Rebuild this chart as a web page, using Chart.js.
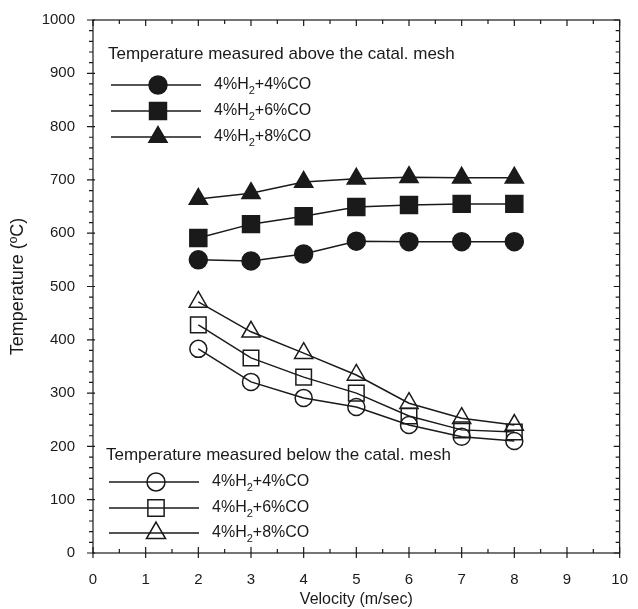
<!DOCTYPE html>
<html>
<head>
<meta charset="utf-8">
<script src="https://cdn.jsdelivr.net/npm/chart.js@4.4.0/dist/chart.umd.min.js"></script>
<style>
  html, body { margin: 0; padding: 0; background: #fff; }
  #wrap { width: 638px; height: 609px; }
</style>
</head>
<body>
<div id="wrap"><canvas id="grafico" width="638" height="609"></canvas></div>
<script>
// velocity (m/sec)
var velocity = [2, 3, 4, 5, 6, 7, 8];

// temperature above the catalytic mesh
var above4 = [550, 548, 561, 585, 584, 584, 584];
var above6 = [591, 617, 632, 649, 653, 655, 655];
var above8 = [664, 675, 696, 702, 705, 704, 704];

// temperature below the catalytic mesh
var below4 = [383, 321, 291, 274, 240, 218, 210];
var below6 = [428, 366, 330, 300, 257, 231, 227];
var below8 = [471, 415, 375, 334, 281, 253, 240];

var seriesNames = ['4%H2+4%CO', '4%H2+6%CO', '4%H2+8%CO'];
var xTicks = [0, 1, 2, 3, 4, 5, 6, 7, 8, 9, 10];
var yTicks = [0, 100, 200, 300, 400, 500, 600, 700, 800, 900, 1000];

var ink = '#1a1a1a';
var font = '"Liberation Sans", Arial, sans-serif';

function pts(ys) {
  return velocity.map(function (v, i) { return { x: v, y: ys[i] }; });
}

function serie(label, ys, style, filled, r) {
  return {
    label: label,
    data: pts(ys),
    showLine: true,
    borderColor: ink,
    borderWidth: 1.5,
    pointStyle: style,
    pointRadius: r,
    pointHoverRadius: r,
    pointBorderColor: ink,
    pointBorderWidth: 1.5,
    pointBackgroundColor: filled ? ink : 'rgba(0,0,0,0)',
    backgroundColor: filled ? ink : 'rgba(0,0,0,0)'
  };
}

var filledR = [9, 12, 10.5];
var openR = [8.5, 11, 10.5];

// ticks, frame and the two legend boxes
var marcos = {
  id: 'marcos',
  afterDraw: function (chart) {
    var c = chart.ctx, a = chart.chartArea;
    var xs = chart.scales.x, ys = chart.scales.y;
    c.save();
    c.strokeStyle = ink;
    c.lineWidth = 1.2;
    c.strokeRect(a.left, a.top, a.right - a.left, a.bottom - a.top);
    c.beginPath();
    for (var v = 0; v <= 10.001; v += 0.5) {
      var px = xs.getPixelForValue(v);
      var major = Math.abs(v - Math.round(v)) < 1e-6;
      var len = major ? 6 : 4;
      c.moveTo(px, a.bottom + (major ? 5 : 0)); c.lineTo(px, a.bottom - len);
      c.moveTo(px, a.top); c.lineTo(px, a.top + len);
    }
    for (var w = 0; w <= 1000; w += 20) {
      var py = ys.getPixelForValue(w);
      var maj = w % 100 === 0;
      var l2 = maj ? 6 : 4;
      c.moveTo(a.left - l2, py); c.lineTo(a.left + (maj ? 2 : 0), py);
      c.moveTo(a.right, py); c.lineTo(a.right - l2, py);
    }
    c.stroke();

    function leyenda(title, tx, ty, rows, filled) {
      c.fillStyle = ink;
      c.font = '17px ' + font;
      c.textBaseline = 'middle';
      c.textAlign = 'left';
      c.fillText(title, tx, ty);
      var styles = ['circle', 'rect', 'triangle'];
      for (var i = 0; i < 3; i++) {
        var y = rows[i];
        c.beginPath();
        c.lineWidth = 1.5;
        c.strokeStyle = ink;
        c.moveTo(tx + 3, y); c.lineTo(tx + 93, y);
        c.stroke();
        var r = filled ? filledR[i] : openR[i] + 0.5;
        c.fillStyle = filled ? ink : 'rgba(0,0,0,0)';
        Chart.helpers.drawPoint(c, {
          pointStyle: styles[i], radius: r, borderWidth: 1.5
        }, tx + 50, y);
        // label with subscript
        var n = seriesNames[i];
        var x0 = tx + 106;
        c.fillStyle = ink;
        c.font = '16px ' + font;
        c.fillText('4%H', x0, y);
        x0 += c.measureText('4%H').width;
        c.font = '11px ' + font;
        c.fillText('2', x0, y + 6);
        x0 += c.measureText('2').width;
        c.font = '16px ' + font;
        c.fillText(n.slice(4), x0, y);
      }
    }
    leyenda('Temperature measured above the catal. mesh', 108, 54, [85, 111, 137], true);
    leyenda('Temperature measured below the catal. mesh', 106, 455, [482, 508, 533], false);
    c.restore();
  }
};

var ctx = document.getElementById('grafico').getContext('2d');
var chart = new Chart(ctx, {
  type: 'scatter',
  data: {
    datasets: [
      serie(seriesNames[0] + ' above', above4, 'circle', true, filledR[0]),
      serie(seriesNames[1] + ' above', above6, 'rect', true, filledR[1]),
      serie(seriesNames[2] + ' above', above8, 'triangle', true, filledR[2]),
      serie(seriesNames[0] + ' below', below4, 'circle', false, openR[0]),
      serie(seriesNames[1] + ' below', below6, 'rect', false, openR[1]),
      serie(seriesNames[2] + ' below', below8, 'triangle', false, openR[2])
    ]
  },
  options: {
    responsive: false,
    animation: false,
    layout: { padding: { top: 20, right: 10, left: 0, bottom: 0 } },
    plugins: { legend: { display: false }, tooltip: { enabled: false } },
    scales: {
      x: {
        type: 'linear',
        min: 0, max: 10,
        afterBuildTicks: function (s) { s.ticks = xTicks.map(function (v) { return { value: v }; }); },
        afterFit: function (s) { s.height = 56; },
        grid: { display: false },
        border: { display: false },
        ticks: { color: ink, font: { family: font, size: 15 }, padding: 10, maxRotation: 0,
          callback: function (v) { return String(v); } },
        title: { display: true, text: 'Velocity (m/sec)', color: ink, font: { family: font, size: 16 }, padding: { top: 2, bottom: 0 } }
      },
      y: {
        type: 'linear',
        min: 0, max: 1000,
        afterBuildTicks: function (s) { s.ticks = yTicks.map(function (v) { return { value: v }; }); },
        afterFit: function (s) { s.width = 93; },
        grid: { display: false },
        border: { display: false },
        ticks: { color: ink, font: { family: font, size: 15 }, padding: 10,
          callback: function (v) { return String(v); } },
        title: { display: true, text: 'Temperature (ºC)', color: ink, font: { family: font, size: 18 }, padding: { top: 7, bottom: 0 } }
      }
    }
  },
  plugins: [marcos]
});
</script>
</body>
</html>
